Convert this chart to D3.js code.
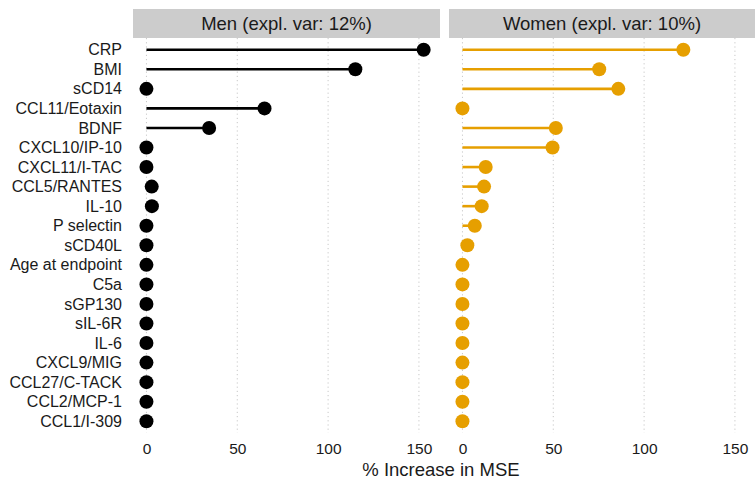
<!DOCTYPE html>
<html><head><meta charset="utf-8">
<script src="https://cdn.jsdelivr.net/npm/d3@7"></script>
<style>body{margin:0;background:#fff;}svg{display:block;font-family:"Liberation Sans",Arial,sans-serif;}</style>
</head><body><svg id="c" width="755" height="480"></svg>
<script>
const categories = ["CRP","BMI","sCD14","CCL11/Eotaxin","BDNF","CXCL10/IP-10","CXCL11/I-TAC","CCL5/RANTES","IL-10","P selectin","sCD40L","Age at endpoint","C5a","sGP130","sIL-6R","IL-6","CXCL9/MIG","CCL27/C-TACK","CCL2/MCP-1","CCL1/I-309"];
const menValues = [152.6,115,0,65,34.5,0,0,2.9,3,0,0,0,0,0,0,0,0,0,0,0];
const womenValues = [121.6,75.3,85.8,0,51.4,49.6,12.8,11.9,10.6,6.8,2.7,0,0,0,0,0,0,0,0,0];
const panelTitles = ["Men (expl. var: 12%)","Women (expl. var: 10%)"];
const xTicks = [0,50,100,150];
const colors = ["#000000","#E69F00"];
const xTitle = "% Increase in MSE";

(function(){
const svg = d3.select("#c");
const pTop = 38, pBottom = 433, stripTop = 9;
const panels = [{x0:133,x1:440,vals:menValues},{x0:449,x1:755,vals:womenValues}];
const y = d3.scalePoint().domain(categories).range([pTop,pBottom]).padding(0.6);

svg.append("g").selectAll("text").data(categories).join("text")
  .attr("x",122).attr("y",d=>y(d)).attr("dy","0.35em").attr("text-anchor","end")
  .attr("font-size",16).attr("fill","#1a1a1a").text(d=>d);

panels.forEach((p,i)=>{
  const x = d3.scaleLinear().domain([-7.4,161.6]).range([p.x0,p.x0+307]);
  const g = svg.append("g");
  g.append("rect").attr("x",p.x0).attr("y",stripTop).attr("width",p.x1-p.x0).attr("height",pTop-stripTop).attr("fill","#cccccc");
  g.append("text").attr("x",(p.x0+p.x1)/2).attr("y",(stripTop+pTop)/2).attr("dy","0.36em")
    .attr("text-anchor","middle").attr("font-size",18.5).attr("fill","#1a1a1a").text(panelTitles[i]);
  g.selectAll("line.grid").data(xTicks).join("line").attr("class","grid")
    .attr("x1",d=>x(d)).attr("x2",d=>x(d)).attr("y1",pTop).attr("y2",pBottom)
    .attr("stroke","#c8c8c8").attr("stroke-width",1).attr("stroke-dasharray","1.2,3");
  const ax = g.append("g").attr("transform",`translate(0,${pBottom})`)
    .call(d3.axisBottom(x).tickValues(xTicks).tickSize(0).tickPadding(10));
  ax.select(".domain").remove();
  ax.selectAll("text").attr("font-size",15.5).attr("fill","#1a1a1a").attr("font-family","Liberation Sans, Arial, sans-serif");
  g.selectAll("line.seg").data(categories).join("line").attr("class","seg")
    .attr("x1",x(0)).attr("x2",(d,j)=>x(p.vals[j])).attr("y1",d=>y(d)).attr("y2",d=>y(d))
    .attr("stroke",colors[i]).attr("stroke-width",2.6);
  g.selectAll("circle").data(categories).join("circle")
    .attr("cx",(d,j)=>x(p.vals[j])).attr("cy",d=>y(d)).attr("r",7).attr("fill",colors[i]);
});

svg.append("text").attr("x",441).attr("y",470).attr("dy","0.35em").attr("text-anchor","middle")
  .attr("font-size",18.5).attr("fill","#1a1a1a").text(xTitle);
})();
</script></body></html>
